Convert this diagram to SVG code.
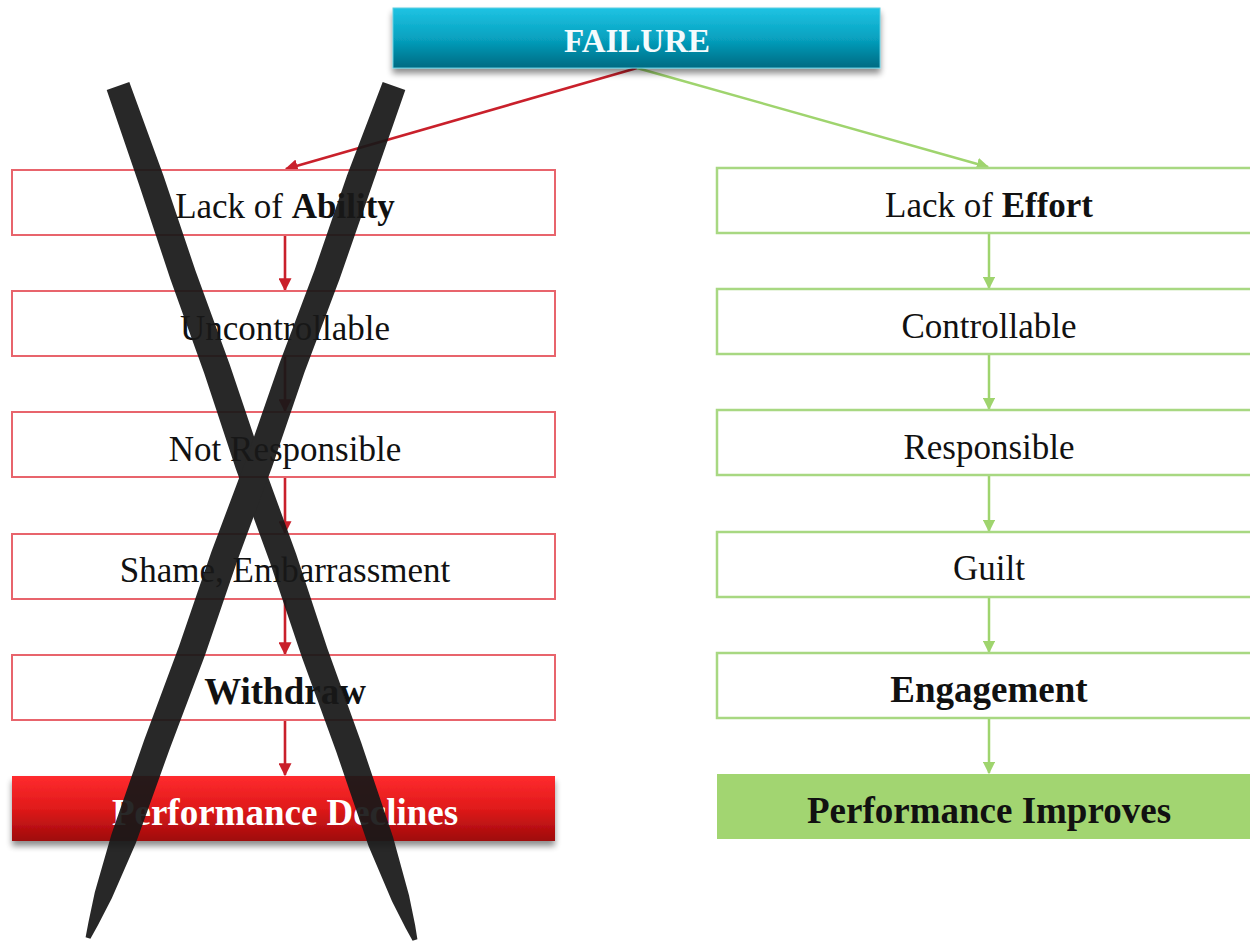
<svg xmlns="http://www.w3.org/2000/svg" width="1250" height="945" viewBox="0 0 1250 945">
  <style>
    .txt { font-family: "Liberation Serif", "Times New Roman", serif; font-size: 35px; fill: #111; text-anchor: middle; }
    .b { font-weight: bold; }
    .big { font-size: 37px; font-weight: bold; }
    .redbox { fill: #fff; stroke: #e8646c; stroke-width: 2; }
    .grnbox { fill: #fff; stroke: #a8d882; stroke-width: 2.5; }
    .redln { stroke: #c9202b; stroke-width: 2.6; fill: none; }
    .grnln { stroke: #9fd46e; stroke-width: 2.5; fill: none; }
  </style>
  <defs>
    <linearGradient id="tealGrad" x1="0" y1="0" x2="0" y2="1">
      <stop offset="0" stop-color="#1fc3e3"/>
      <stop offset="0.5" stop-color="#07a2c0"/>
      <stop offset="1" stop-color="#006a82"/>
    </linearGradient>
    <linearGradient id="redGrad" x1="0" y1="0" x2="0" y2="1">
      <stop offset="0" stop-color="#ff2b2e"/>
      <stop offset="0.5" stop-color="#e01a1a"/>
      <stop offset="1" stop-color="#9e0a0c"/>
    </linearGradient>
    <filter id="shadow" x="-5%" y="-20%" width="110%" height="150%">
      <feGaussianBlur in="SourceAlpha" stdDeviation="3"/>
      <feOffset dx="0" dy="5" result="b"/>
      <feComponentTransfer><feFuncA type="linear" slope="0.45"/></feComponentTransfer>
      <feMerge><feMergeNode/><feMergeNode in="SourceGraphic"/></feMerge>
    </filter>
    <marker id="arrRed" viewBox="0 0 10 10" refX="9" refY="5" markerWidth="5" markerHeight="5" orient="auto" markerUnits="strokeWidth">
      <path d="M0,0 L10,5 L0,10 Z" fill="#c9202b"/>
    </marker>
    <marker id="arrGrn" viewBox="0 0 10 10" refX="9" refY="5" markerWidth="5" markerHeight="5" orient="auto" markerUnits="strokeWidth">
      <path d="M0,0 L10,5 L0,10 Z" fill="#9fd46e"/>
    </marker>
  </defs>

  <rect width="1250" height="945" fill="#fff"/>

  <!-- connectors -->
  <g id="connectors">
    <line class="redln" x1="637" y1="68" x2="286" y2="169" marker-end="url(#arrRed)"/>
    <line class="grnln" x1="637" y1="68" x2="988" y2="167" marker-end="url(#arrGrn)"/>
    <line class="redln" x1="285" y1="235" x2="285" y2="290" marker-end="url(#arrRed)"/>
    <line class="redln" x1="285" y1="356" x2="285" y2="411" marker-end="url(#arrRed)"/>
    <line class="redln" x1="285" y1="477" x2="285" y2="533" marker-end="url(#arrRed)"/>
    <line class="redln" x1="285" y1="599" x2="285" y2="654" marker-end="url(#arrRed)"/>
    <line class="redln" x1="285" y1="720" x2="285" y2="775" marker-end="url(#arrRed)"/>
    <line class="grnln" x1="989" y1="233" x2="989" y2="288" marker-end="url(#arrGrn)"/>
    <line class="grnln" x1="989" y1="354" x2="989" y2="409" marker-end="url(#arrGrn)"/>
    <line class="grnln" x1="989" y1="475" x2="989" y2="531" marker-end="url(#arrGrn)"/>
    <line class="grnln" x1="989" y1="597" x2="989" y2="652" marker-end="url(#arrGrn)"/>
    <line class="grnln" x1="989" y1="718" x2="989" y2="773" marker-end="url(#arrGrn)"/>
  </g>

  <!-- top node -->
  <g id="failure">
    <rect x="393" y="8" width="487" height="60" fill="url(#tealGrad)" stroke="#5fcde0" stroke-width="1" filter="url(#shadow)"/>
    <text x="637" y="52" class="txt b" style="font-size:33px; fill:#f4fbfd">FAILURE</text>
  </g>

  <!-- left column -->
  <g id="lack-ability">
    <rect class="redbox" x="12" y="170" width="543" height="65"/>
    <text class="txt" x="285" y="218">Lack of <tspan class="b">Ability</tspan></text>
  </g>
  <g id="uncontrollable">
    <rect class="redbox" x="12" y="291" width="543" height="65"/>
    <text class="txt" x="285" y="340">Uncontrollable</text>
  </g>
  <g id="not-responsible">
    <rect class="redbox" x="12" y="412" width="543" height="65"/>
    <text class="txt" x="285" y="461">Not Responsible</text>
  </g>
  <g id="shame">
    <rect class="redbox" x="12" y="534" width="543" height="65"/>
    <text class="txt" x="285" y="582">Shame, Embarrassment</text>
  </g>
  <g id="withdraw">
    <rect class="redbox" x="12" y="655" width="543" height="65"/>
    <text class="txt big" x="285" y="704">Withdraw</text>
  </g>
  <g id="performance-declines">
    <rect x="12" y="776" width="543" height="65" fill="url(#redGrad)" filter="url(#shadow)"/>
    <text class="txt big" x="285" y="825" style="fill:#fff">Performance Declines</text>
  </g>

  <!-- right column -->
  <g id="lack-effort">
    <rect class="grnbox" x="717" y="168" width="545" height="65"/>
    <text class="txt" x="989" y="217">Lack of <tspan class="b">Effort</tspan></text>
  </g>
  <g id="controllable">
    <rect class="grnbox" x="717" y="289" width="545" height="65"/>
    <text class="txt" x="989" y="338">Controllable</text>
  </g>
  <g id="responsible">
    <rect class="grnbox" x="717" y="410" width="545" height="65"/>
    <text class="txt" x="989" y="459">Responsible</text>
  </g>
  <g id="guilt">
    <rect class="grnbox" x="717" y="532" width="545" height="65"/>
    <text class="txt" x="989" y="580">Guilt</text>
  </g>
  <g id="engagement">
    <rect class="grnbox" x="717" y="653" width="545" height="65"/>
    <text class="txt big" x="989" y="702">Engagement</text>
  </g>
  <g id="performance-improves">
    <rect x="717" y="774" width="545" height="65" fill="#a2d571"/>
    <text class="txt big" x="989" y="823">Performance Improves</text>
  </g>

  <!-- hand-drawn cross over the left column -->
  <g id="cross" opacity="0.93" fill="#181818">
    <polygon points="129.3,82.1 163.6,176.0 195.5,270.8 229.8,364.8 261.7,459.5 296.0,553.5 327.4,648.4 361.2,742.6 393.1,837.3 409.0,895.3 415.1,925.0 417.4,939.2 412.6,940.8 405.7,928.2 392.0,901.3 368.5,845.9 336.1,751.3 301.9,657.3 270.0,562.5 235.7,468.6 204.3,373.6 170.5,279.5 139.0,184.6 106.7,89.9"/>
    <polygon points="382.7,81.9 405.3,90.1 372.4,184.5 339.6,279.0 304.4,372.6 272.0,467.2 237.2,560.9 204.9,655.6 169.6,749.2 135.8,843.3 111.8,898.3 97.9,925.3 90.4,938.8 85.6,937.2 88.5,921.9 94.8,892.3 111.4,834.5 144.2,740.0 179.0,646.3 211.4,551.7 246.6,458.1 279.4,363.6 314.6,270.0 347.0,175.4"/>
  </g>
</svg>
